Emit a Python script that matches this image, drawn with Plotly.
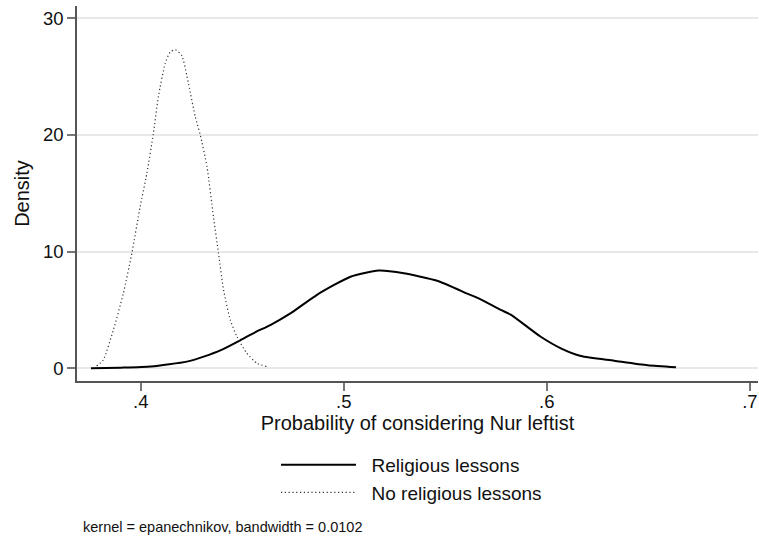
import plotly.graph_objects as go

# Religious lessons (solid)
rel_x = [0.3755, 0.390, 0.405, 0.4227, 0.431, 0.440, 0.449, 0.4565, 0.4638, 0.4737, 0.4868,
         0.5033, 0.5172, 0.5296, 0.546, 0.5608, 0.5674, 0.5773, 0.5822, 0.597, 0.6069,
         0.6168, 0.6332, 0.6496, 0.6636]
rel_y = [0.0, 0.05, 0.15, 0.57, 1.0, 1.6, 2.4, 3.1, 3.7, 4.7, 6.3,
         7.85, 8.37, 8.14, 7.5, 6.4, 5.9, 5.0, 4.6, 2.7, 1.71,
         1.05, 0.65, 0.26, 0.09]

# No religious lessons (dotted)
norel_x = [0.3783, 0.3815, 0.3865, 0.3914, 0.3956, 0.3997, 0.403, 0.4062, 0.4087, 0.412,
           0.4145, 0.417, 0.4202, 0.4235, 0.4268, 0.4293, 0.4326, 0.4358, 0.4383, 0.4408,
           0.4441, 0.4474, 0.4523, 0.4572, 0.4622]
norel_y = [0.2, 0.71, 3.28, 6.4, 9.85, 13.85, 16.7, 20.1, 23.3, 26.1,
           27.1, 27.3, 26.8, 24.4, 21.6, 20.0, 17.3, 13.0, 9.85, 6.7,
           4.14, 2.7, 1.28, 0.43, 0.14]

x_ticks = [0.4, 0.5, 0.6, 0.7]
x_ticklabels = [".4", ".5", ".6", ".7"]
y_ticks = [0, 10, 20, 30]
y_ticklabels = ["0", "10", "20", "30"]

FONT = "Liberation Sans, Arial, Helvetica, sans-serif"
NB = "\u00a0\u00a0"

fig = go.Figure()
fig.add_trace(go.Scatter(x=rel_x, y=rel_y, mode="lines", name=NB + "Religious lessons",
                         legendgroup="a",
                         line=dict(color="#000000", width=2, shape="spline", smoothing=0.6)))
fig.add_trace(go.Scatter(x=norel_x, y=norel_y, mode="lines", name=NB + "No religious lessons",
                         legendgroup="b",
                         line=dict(color="#333333", width=1.2, dash="1.2px,2.6px", shape="spline", smoothing=0.6)))

fig.update_layout(
    width=759, height=539,
    margin=dict(l=77, r=1, t=6, b=158),
    paper_bgcolor="white", plot_bgcolor="white",
    font=dict(family=FONT, size=19, color="#111111"),
    showlegend=True,
    legend=dict(orientation="v", x=(277 - 77 - 1) / 681, xanchor="left", y=-0.173, yanchor="top",
                font=dict(size=19), itemwidth=75, tracegroupgap=0, bgcolor="rgba(0,0,0,0)",
                borderwidth=0),
    xaxis=dict(range=[0.3686, 0.704], tickvals=x_ticks, ticktext=x_ticklabels,
               showgrid=False, zeroline=False, showline=True, linecolor="#555555", linewidth=1.5,
               ticks="outside", ticklen=8, tickwidth=1.5, tickcolor="#777777",
               tickfont=dict(size=18.5), ticklabelstandoff=-5,
               title=dict(text="Probability of considering Nur leftist", font=dict(size=20), standoff=2)),
    yaxis=dict(range=[-1.09, 31.05], tickvals=y_ticks, ticktext=y_ticklabels,
               showgrid=True, gridcolor="#e8e8e8", gridwidth=1.5, zeroline=False,
               showline=True, linecolor="#555555", linewidth=1.5,
               ticks="outside", ticklen=8, tickwidth=1.5, tickcolor="#777777",
               tickfont=dict(size=18.5),
               title=dict(text="Density", font=dict(size=20), standoff=8)),
    annotations=[dict(text="kernel = epanechnikov, bandwidth = 0.0102", xref="paper", yref="paper",
                      x=(81 - 77) / 681, y=-(527 - 381) / 375, xanchor="left", yanchor="middle",
                      showarrow=False, font=dict(size=14.5, color="#111111"))],
)

fig.write_html("out.html")
